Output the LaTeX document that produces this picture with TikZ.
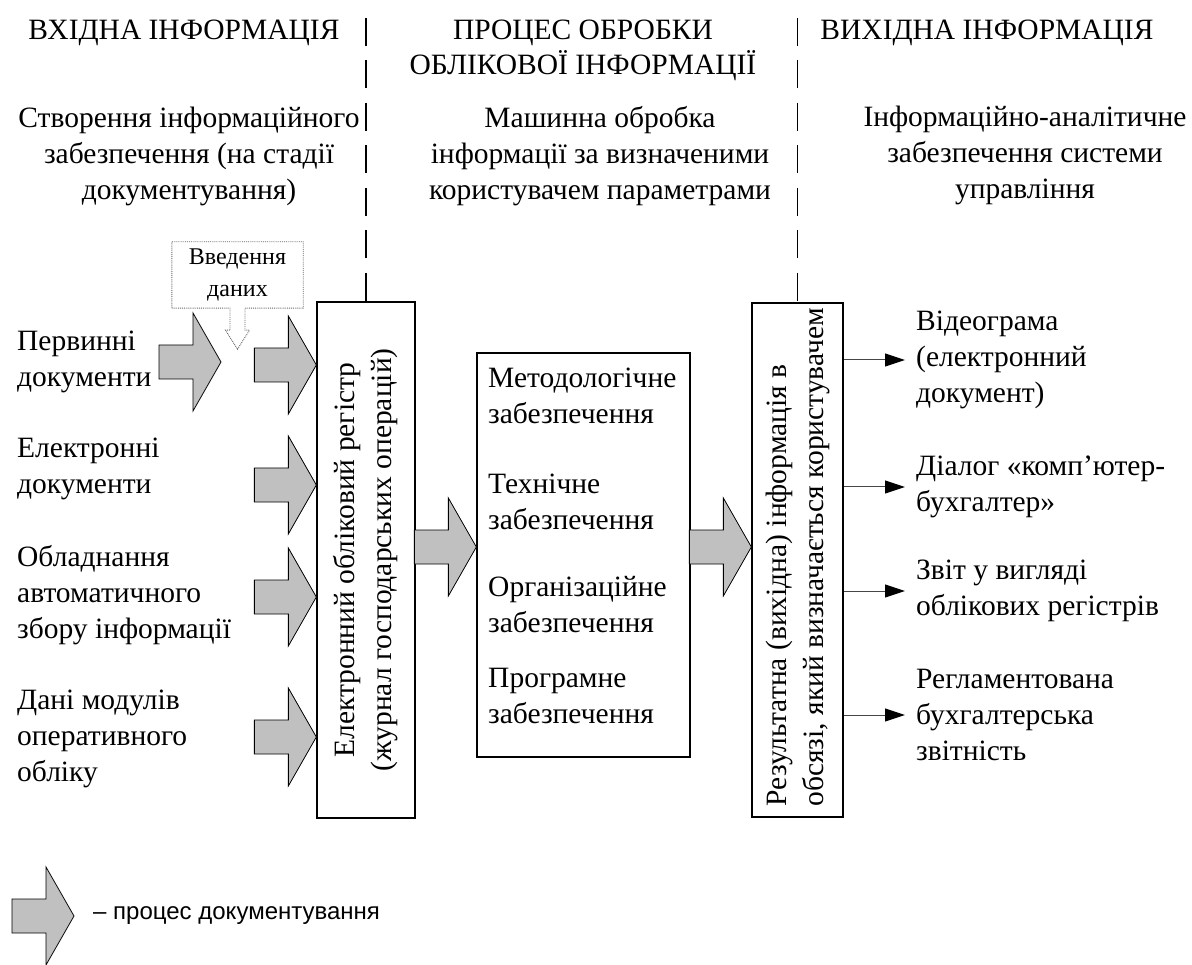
\documentclass[tikz,border=0pt]{standalone}
\usepackage{fontspec}
\setmainfont{Liberation Serif}
\newfontfamily\legendfont{Liberation Sans}
\usetikzlibrary{calc,arrows.meta}

\definecolor{arrowgray}{RGB}{192,192,192}
\definecolor{outline}{RGB}{70,70,70}

\tikzset{
  txt/.style={inner sep=0pt, font=\fontsize{29.5}{36}\selectfont},
  lefttext/.style={txt, anchor=west, align=left},
  centertext/.style={txt, align=center},
  frame/.style={draw, line width=1.3pt, inner sep=0pt},
  divider/.style={line width=1.2pt, dash pattern=on 28pt off 14.5pt},
  outarrow/.style={draw=outline, line width=1pt,
    -{Triangle[length=20pt,width=13pt,color=black]}},
  calloutline/.style={draw=black!60, line width=0.9pt, densely dotted},
  blockarrow/.pic={
    \draw[fill=arrowgray, line width=0.8pt, line join=miter]
      (-62,-17) -- (-28,-17) -- (-28,-49) -- (0,0) -- (-28,49)
      -- (-28,17) -- (-62,17) -- cycle;
  }
}

\begin{document}
\begin{tikzpicture}[x=1pt,y=-1pt]
\useasboundingbox (0,0) rectangle (1192,965);

% column headings
\node[centertext] (h1) at (184,33) {ВХІДНА ІНФОРМАЦІЯ};
\node[centertext, font=\fontsize{29.5}{35}\selectfont] (h2) at (583,50) {ПРОЦЕС ОБРОБКИ\\ОБЛІКОВОЇ ІНФОРМАЦІЇ};
\node[centertext] (h3) at (987,33) {ВИХІДНА ІНФОРМАЦІЯ};

% column subtitles
\node[centertext] (s1) at (189,156) {Створення інформаційного\\забезпечення (на стадії\\документування)};
\node[centertext] (s2) at (600,156) {Машинна обробка\\інформації за визначеними\\користувачем параметрами};
\node[centertext] (s3) at (1025,155) {Інформаційно-аналітичне\\забезпечення системи\\управління};

% main boxes
\node[frame, minimum width=98pt, minimum height=516pt] (reg) at (366,560) {};
\node[frame, minimum width=213pt, minimum height=404pt] (proc) at (583.5,555) {};
\node[frame, minimum width=91pt, minimum height=514pt] (res) at (797.5,560) {};

\node[txt, align=center, rotate=90, font=\fontsize{29.5}{37}\selectfont] (regtext) at (reg.center)
  {Електронний обліковий регістр\\(журнал господарських операцій)};
\node[txt, align=left, rotate=90, anchor=west, font=\fontsize{29.5}{37}\selectfont] (restext)
  at ($(res.south)+(0,-11)$)
  {Результатна (вихідна) інформація в\\обсязі, який визначається користувачем};

% column dividers
\coordinate (d1) at (reg.north |- 0,18);
\coordinate (d2) at (res.north |- 0,18);
\draw[divider] (d1) -- (reg.north);
\draw[divider] (d2) -- (res.north);

% data sources
\node[lefttext] (in1) at (17,362) {Первинні\\документи};
\node[lefttext] (in2) at (17,469) {Електронні\\документи};
\node[lefttext] (in3) at (17,595) {Обладнання\\автоматичного\\збору інформації};
\node[lefttext] (in4) at (17,739) {Дані модулів\\оперативного\\обліку};

% data entry callout
\node[inner sep=0pt, minimum width=131pt, minimum height=66pt, align=center,
      font=\fontsize{24}{32}\selectfont] (inp) at (237.5,275) {Введення\\даних};
\draw[calloutline] (inp.south west) -- (inp.north west) -- (inp.north east)
  -- (inp.south east) -- ($(inp.south)+(7.5,0)$) -- ($(inp.south)+(7.5,22)$)
  -- ($(inp.south)+(12,22)$) -- ($(inp.south)+(0,41)$) -- ($(inp.south)+(-12,22)$)
  -- ($(inp.south)+(-7.5,22)$) -- ($(inp.south)+(-7.5,0)$) -- cycle;

% documenting process arrows
\pic at (221,362) {blockarrow};
\pic at (reg.west |- 0,365) {blockarrow};
\pic at (reg.west |- 0,485) {blockarrow};
\pic at (reg.west |- 0,597) {blockarrow};
\pic at (reg.west |- 0,737) {blockarrow};
\pic at (proc.west |- 0,547) {blockarrow};
\pic at (res.west |- 0,547) {blockarrow};

% support components
\node[lefttext] (m1) at (488,396) {Методологічне\\забезпечення};
\node[lefttext] (m2) at (488,502) {Технічне\\забезпечення};
\node[lefttext] (m3) at (488,605) {Організаційне\\забезпечення};
\node[lefttext] (m4) at (488,696) {Програмне\\забезпечення};

% outputs
\node[lefttext] (o1) at (916,360) {Відеограма\\(електронний\\документ)};
\node[lefttext] (o2) at (916,487) {Діалог «комп'ютер-\\бухгалтер»};
\node[lefttext] (o3) at (916,591) {Звіт у вигляді\\облікових регістрів};
\node[lefttext] (o4) at (916,715) {Регламентована\\бухгалтерська\\звітність};

\foreach \o in {o1,o2,o3,o4}
  \draw[outarrow] (res.east |- \o.west) -- ([xshift=-11pt]\o.west);

% legend
\pic at (74,916) {blockarrow};
\node[inner sep=0pt, anchor=west, font=\legendfont\fontsize{24}{28}\selectfont] (leg)
  at (93,916) {– процес документування};
\end{tikzpicture}
\end{document}
